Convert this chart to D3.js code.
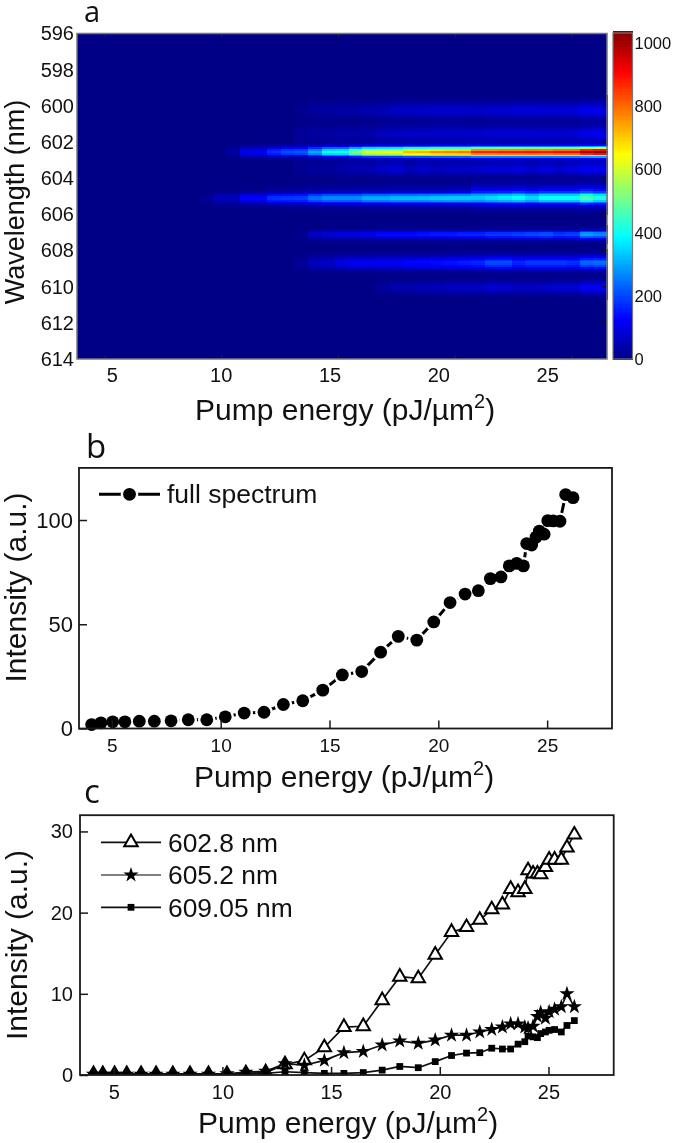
<!DOCTYPE html>
<html><head><meta charset="utf-8">
<script src="https://cdn.jsdelivr.net/npm/d3@7"></script>
<style>
html,body{margin:0;padding:0;background:#fff;}
svg{display:block;filter:blur(0.45px);}
text{font-family:"Liberation Sans",Arial,sans-serif;fill:#111;}
</style></head><body>
<svg id="c" width="675" height="1143"></svg>
<script>
// ---- panel a: peak amplitude per heat-map column (39 columns) ----
const band6028 = [0,0,0,0,0,0,0,0,0,0,0,30,110,120,180,210,220,300,400,410,520,620,630,640,720,730,770,780,790,880,880,890,890,900,890,910,910,1000,1030];
const band6052 = [0,0,0,0,0,0,0,0,0,15,60,60,130,130,170,170,170,220,240,240,240,270,270,280,280,280,290,290,280,210,230,250,250,230,260,260,260,300,270];
const band6049 = [0,0,0,0,0,0,0,0,0,0,0,0,0,0,15,20,25,30,40,40,40,45,45,50,50,55,55,60,70,140,140,140,160,140,160,160,160,190,170];
const band6071 = [0,0,0,0,0,0,0,0,0,0,0,0,0,0,0,0,12,70,90,100,100,110,140,140,140,150,160,160,170,170,190,190,200,210,220,190,200,300,280];
const band6087 = [0,0,0,0,0,0,0,0,0,0,0,0,0,0,0,0,20,60,70,100,115,115,120,120,135,135,140,150,160,170,210,210,170,190,190,190,180,235,245];
const band6100 = [0,0,0,0,0,0,0,0,0,0,0,0,0,0,0,0,0,0,0,0,0,0,25,45,45,55,60,70,70,70,90,80,70,70,80,90,90,130,130];
const band6002 = [0,0,0,0,0,0,0,0,0,0,0,0,0,0,0,0,12,25,30,35,35,45,50,65,70,70,75,75,75,70,80,80,90,90,85,85,90,110,110];
const band6015 = [0,0,0,0,0,0,0,0,0,0,0,0,0,0,0,0,20,30,30,35,35,40,60,65,70,70,75,75,75,75,85,85,85,85,80,80,85,105,110];
const band6034 = [0,0,0,0,0,0,0,0,0,0,0,0,0,0,0,0,15,25,25,40,50,50,70,85,55,75,60,70,70,75,85,85,95,75,95,75,95,115,115];
const bands = [
  {nm:602.55, sigma:0.19, amp:band6028},
  {nm:605.12, sigma:0.20, amp:band6052},
  {nm:604.95, sigma:0.38, amp:band6049},
  {nm:607.12, sigma:0.17, amp:band6071},
  {nm:608.68, sigma:0.25, amp:band6087},
  {nm:610.05, sigma:0.24, amp:band6100},
  {nm:600.25, sigma:0.30, amp:band6002},
  {nm:601.55, sigma:0.32, amp:band6015},
  {nm:603.45, sigma:0.26, amp:band6034}
];
const wavelengthTicks = [596,598,600,602,604,606,608,610,612,614];
const energyTicks = [5,10,15,20,25];
const colorbarTicks = [0,200,400,600,800,1000];

// ---- panels b and c ----
const energy = [4.07,4.50,5.04,5.60,6.26,6.95,7.72,8.51,9.36,10.21,11.08,11.99,12.88,13.77,14.69,15.59,16.48,17.35,18.16,19.01,19.79,20.54,21.23,21.84,22.39,22.88,23.26,23.60,23.91,24.06,24.29,24.49,24.64,24.86,25.03,25.28,25.59,25.85,26.19];
const fullSpectrum = [1.9,2.7,3.2,3.2,3.5,3.5,3.7,4.2,4.2,5.6,7.4,7.8,11.5,13.3,18.4,25.7,27.3,36.6,44.2,42.4,51.1,60.4,64.5,66.1,71.9,72.7,78,79.2,78,88.7,88,91.8,94.7,93.2,99.7,99.6,99.4,112.2,110.7];
const s6028 = [0.1,0.1,0.1,0.1,0.1,0.1,0.1,0.1,0.1,0.1,0.2,0.3,1.3,1.8,3.4,5.9,6.0,9.2,12.1,11.9,14.8,17.6,18.2,19.1,20.4,21.0,22.9,22.5,22.9,25.2,24.8,24.8,24.7,25.6,26.5,26.5,26.5,28.0,29.6];
const s6052 = [0.1,0.1,0.1,0.1,0.1,0.1,0.1,0.1,0.1,0.15,0.35,0.45,1.4,1.2,1.8,2.75,2.9,3.7,4.2,3.9,4.3,4.9,4.9,5.3,5.6,5.9,6.3,6.3,5.9,5.8,6.0,7.2,7.7,7.0,7.8,8.1,8.4,10.0,8.4];
const s6090 = [0.1,0.1,0.1,0.1,0.1,0.1,0.1,0.1,0.1,0.1,0.15,0.2,0.4,0.3,0.2,0.2,0.3,0.6,1.05,0.9,1.65,2.4,2.7,2.75,3.3,3.2,3.2,3.8,4.1,4.8,4.7,4.6,5.1,5.3,5.5,5.6,5.3,6.1,6.7];
const intensityTicksB = [0,50,100];
const intensityTicksC = [0,10,20,30];
const legendC = ["602.8 nm","605.2 nm","609.05 nm"];

const svg = d3.select("#c");
const INK = "#1a1a1a";

function pumpTitle(x, y){
  const t = svg.append("text").attr("x",x).attr("y",y).attr("font-size",30);
  t.append("tspan").text("Pump energy (pJ/\u00b5m");
  t.append("tspan").attr("dy",-12).attr("font-size",20).text("2");
  t.append("tspan").attr("dy",12).text(")");
}
function yTitle(text,x,y,size){
  svg.append("text").attr("transform",`translate(${x},${y}) rotate(-90)`)
    .attr("text-anchor","middle").attr("font-size",size).text(text);
}
function letter(t,x,y,size){
  svg.append("text").attr("x",x).attr("y",y).attr("font-size",size)
    .style("font-family","'Open Sans',sans-serif").text(t);
}
function styleAxis(g,size){
  g.select(".domain").remove();
  g.selectAll("line").attr("stroke",INK).attr("stroke-width",1.5);
  g.selectAll("text").attr("font-size",size).attr("fill","#111").style("font-family","'Liberation Sans',Arial,sans-serif");
}

// ---- panel a ----
const jetStops = [[0,"#000086"],[0.125,"#0000ff"],[0.375,"#00ffff"],[0.625,"#ffff00"],[0.875,"#ff0000"],[1,"#800000"]];
const heatMax = 1040;
const jet = d3.scaleLinear().domain(jetStops.map(d=>d[0]*heatMax)).range(jetStops.map(d=>d[1])).clamp(true);
const colIdx = d3.range(band6028.length);
const xCol = d3.scaleBand().domain(colIdx).range([77,607]);
const xHeat = d3.scaleLinear().domain([3.8,26.5]).range([77,607]);
const xLabelA = d3.scaleLinear().domain([3.49,27.98]).range([79,612]);
const yWave = d3.scaleLinear().domain([596,614]).range([33.5,359]);
const rowStep = 0.1;
const rows = d3.range(596,614,rowStep);
const cells = [];
colIdx.forEach(c=>rows.forEach(w=>{
  const v = d3.sum(bands,b=>b.amp[c]*Math.exp(-((w+rowStep/2-b.nm)**2)/(2*b.sigma*b.sigma)));
  if(v>3) cells.push({c,w,v});
}));
svg.append("rect").attr("x",77).attr("y",33.5).attr("width",530).attr("height",325.5).attr("fill",jet(0));
svg.append("g").attr("shape-rendering","crispEdges").selectAll("rect").data(cells).join("rect")
  .attr("x",d=>xCol(d.c)).attr("width",xCol.bandwidth()+0.5)
  .attr("y",d=>yWave(d.w)).attr("height",yWave(rowStep)-yWave(0)+0.5)
  .attr("fill",d=>jet(d.v));
const tickA = svg.append("g");
tickA.selectAll(".t").data(energyTicks).join("line").attr("x1",d=>xHeat(d)).attr("x2",d=>xHeat(d)).attr("y1",33.5).attr("y2",37).attr("stroke","#223");
tickA.selectAll(".b").data(energyTicks).join("line").attr("x1",d=>xHeat(d)).attr("x2",d=>xHeat(d)).attr("y1",355.5).attr("y2",359).attr("stroke","#223");
tickA.selectAll(".r").data(wavelengthTicks.slice(1,-1)).join("line").attr("x1",602).attr("x2",607).attr("y1",d=>yWave(d)).attr("y2",d=>yWave(d)).attr("stroke","#111");
svg.append("rect").attr("x",77).attr("y",33.5).attr("width",530).attr("height",325.5).attr("fill","none").attr("stroke","#777").attr("stroke-width",1.5);

styleAxis(svg.append("g").attr("transform","translate(76,0)").call(d3.axisLeft(yWave).tickValues(wavelengthTicks).tickSize(0).tickPadding(2)),20);
styleAxis(svg.append("g").attr("transform","translate(0,362)").call(d3.axisBottom(xLabelA).tickValues(energyTicks).tickSize(0).tickPadding(6)),20);

// colorbar
const yBar = d3.scaleLinear().domain([0,1033]).range([359,33]);
const barSteps = d3.range(0,1033,8);
svg.append("g").attr("shape-rendering","crispEdges").selectAll("rect").data(barSteps).join("rect")
  .attr("x",613).attr("width",19.5).attr("y",d=>yBar(d+8)).attr("height",d=>yBar(d)-yBar(d+8)+0.6).attr("fill",d=>jet(d+4));
svg.append("rect").attr("x",613).attr("y",33).attr("width",19.5).attr("height",326).attr("fill","none").attr("stroke","#777").attr("stroke-width",1.2);
styleAxis(svg.append("g").attr("transform","translate(632.5,0)").call(d3.axisRight(yBar).tickValues(colorbarTicks).tickFormat(d3.format("d")).tickSize(0).tickPadding(2)),16.5);

letter("a",84,22,29);
yTitle("Wavelength (nm)",24,202,27);
pumpTitle(195,420);

// ---- panel b ----
const xB = d3.scaleLinear().domain([3.49,27.98]).range([79,612]);
const yB = d3.scaleLinear().domain([0,125]).range([728.5,467.9]);
const bRows = energy.map((e,i)=>({e,v:fullSpectrum[i]}));
const lineB = d3.line().x(d=>xB(d.e)).y(d=>yB(d.v));
svg.append("path").datum(bRows).attr("d",lineB).attr("fill","none").attr("stroke","#000").attr("stroke-width",3);
svg.append("g").selectAll("circle").data(bRows).join("circle").attr("cx",d=>xB(d.e)).attr("cy",d=>yB(d.v)).attr("r",8.8).attr("fill","#fff");
svg.append("g").selectAll("circle").data(bRows).join("circle").attr("cx",d=>xB(d.e)).attr("cy",d=>yB(d.v)).attr("r",6.4).attr("fill","#000");
svg.append("rect").attr("x",79).attr("y",467.9).attr("width",533).attr("height",260.6).attr("fill","none").attr("stroke",INK).attr("stroke-width",1.8);
styleAxis(svg.append("g").attr("transform","translate(0,728.5)").call(d3.axisBottom(xB).tickValues(energyTicks).tickSize(-8).tickPadding(10)),19);
styleAxis(svg.append("g").attr("transform","translate(79,0)").call(d3.axisLeft(yB).tickValues(intensityTicksB).tickSize(-8).tickPadding(6)),22);
svg.append("line").attr("x1",99).attr("x2",160).attr("y1",494.3).attr("y2",494.3).attr("stroke","#000").attr("stroke-width",3);
svg.append("circle").attr("cx",129.5).attr("cy",494.3).attr("r",8.8).attr("fill","#fff");
svg.append("circle").attr("cx",129.5).attr("cy",494.3).attr("r",6.4).attr("fill","#000");
svg.append("text").attr("x",167).attr("y",503).attr("font-size",26.5).text("full spectrum");
letter("b",86,458,33);
yTitle("Intensity (a.u.)",26,587.5,30);
pumpTitle(194,787);

// ---- panel c ----
const xC = d3.scaleLinear().domain([3.45,28]).range([80,613.7]);
const yC = d3.scaleLinear().domain([0,32]).range([1075,815.2]);
svg.append("clipPath").attr("id","clipC").append("rect").attr("x",80).attr("y",815).attr("width",534).attr("height",260);
const symTri = d3.symbol().type(d3.symbolTriangle).size(78)();
const symStar = d3.symbol().type(d3.symbolStar).size(72)();
const symSq = d3.symbol().type(d3.symbolSquare).size(46)();
const seriesC = [
  {vals:s6028,sym:symTri,fill:"#fff",stroke:"#000",sw:2},
  {vals:s6052,sym:symStar,fill:"#000",stroke:"none",sw:0},
  {vals:s6090,sym:symSq,fill:"#000",stroke:"none",sw:0}
];
const plotC = svg.append("g").attr("clip-path","url(#clipC)");
const lineC = d3.line().x(d=>xC(d.e)).y(d=>yC(d.v));
seriesC.forEach(s=>{
  const pts = energy.map((e,i)=>({e,v:s.vals[i]}));
  plotC.append("path").datum(pts).attr("d",lineC).attr("fill","none").attr("stroke","#111").attr("stroke-width",1.7);
  plotC.append("g").selectAll("path").data(pts).join("path").attr("d",s.sym)
    .attr("transform",d=>`translate(${xC(d.e)},${yC(d.v)})`)
    .attr("fill",s.fill).attr("stroke",s.stroke).attr("stroke-width",s.sw);
});
svg.append("rect").attr("x",80).attr("y",815.2).attr("width",533.7).attr("height",259.8).attr("fill","none").attr("stroke",INK).attr("stroke-width",1.8);
styleAxis(svg.append("g").attr("transform","translate(0,1075)").call(d3.axisBottom(xC).tickValues(energyTicks).tickSize(-8).tickPadding(10)),20);
styleAxis(svg.append("g").attr("transform","translate(80,0)").call(d3.axisLeft(yC).tickValues(intensityTicksC).tickSize(-8).tickPadding(7)),20);
legendC.forEach((label,i)=>{
  const s = seriesC[i], ly = [842.3,875,907.3][i];
  svg.append("line").attr("x1",101).attr("x2",161).attr("y1",ly).attr("y2",ly).attr("stroke",i==1?"#555":"#111").attr("stroke-width",1.7);
  svg.append("path").attr("d",s.sym).attr("transform",`translate(131,${ly})`).attr("fill",s.fill).attr("stroke",s.stroke).attr("stroke-width",s.sw);
  svg.append("text").attr("x",168).attr("y",ly+9.4).attr("font-size",26.4).text(label);
});
letter("c",84,803,33);
yTitle("Intensity (a.u.)",26.5,945,30);
pumpTitle(198,1133);
</script>
</body></html>
